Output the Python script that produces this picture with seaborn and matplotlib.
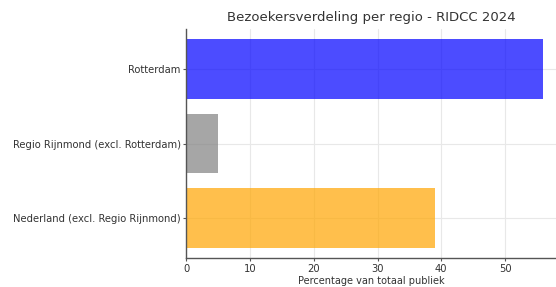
import matplotlib
matplotlib.use("Agg")
import matplotlib.pyplot as plt
import seaborn as sns
import pandas as pd

regions = ["Rotterdam", "Regio Rijnmond (excl. Rotterdam)", "Nederland (excl. Regio Rijnmond)"]
percentages = [56, 5, 39]
bar_colors = ["blue", "gray", "orange"]

sns.set_style("whitegrid")
plt.rcParams["font.family"] = ["DejaVu Sans"]

df = pd.DataFrame({"Regio": regions, "Percentage": percentages})

fig = plt.figure(figsize=(5.56, 2.87), dpi=100)
ax = fig.add_axes([0.335, 0.101, 0.665, 0.798])
sns.barplot(data=df, y="Regio", x="Percentage", hue="Regio", palette=bar_colors,
            alpha=0.7, width=0.8, saturation=1, legend=False, ax=ax, orient="h")
ax.set_xlim(0, 58)
ax.set_ylim(2.53, -0.53)
ax.set_xticks([0, 10, 20, 30, 40, 50])
ax.set_title("Bezoekersverdeling per regio - RIDCC 2024", fontsize=9.5, color="#333333", pad=6)
ax.set_xlabel("Percentage van totaal publiek", fontsize=7, color="#333333", labelpad=2)
ax.set_ylabel("")
ax.tick_params(axis="both", labelsize=7.2, colors="#333333", length=2.5, pad=1.5)
ax.grid(True, color="#e8e8e8", linewidth=0.8)
for s in ["top", "right"]:
    ax.spines[s].set_visible(False)
for s in ["left", "bottom"]:
    ax.spines[s].set_color("#555555")
    ax.spines[s].set_linewidth(1.0)
ax.tick_params(axis="both", which="both", bottom=True, left=True, color="#555555")
for p in ax.patches:
    p.set_edgecolor("none")
fig.savefig("out.png", dpi=100)
